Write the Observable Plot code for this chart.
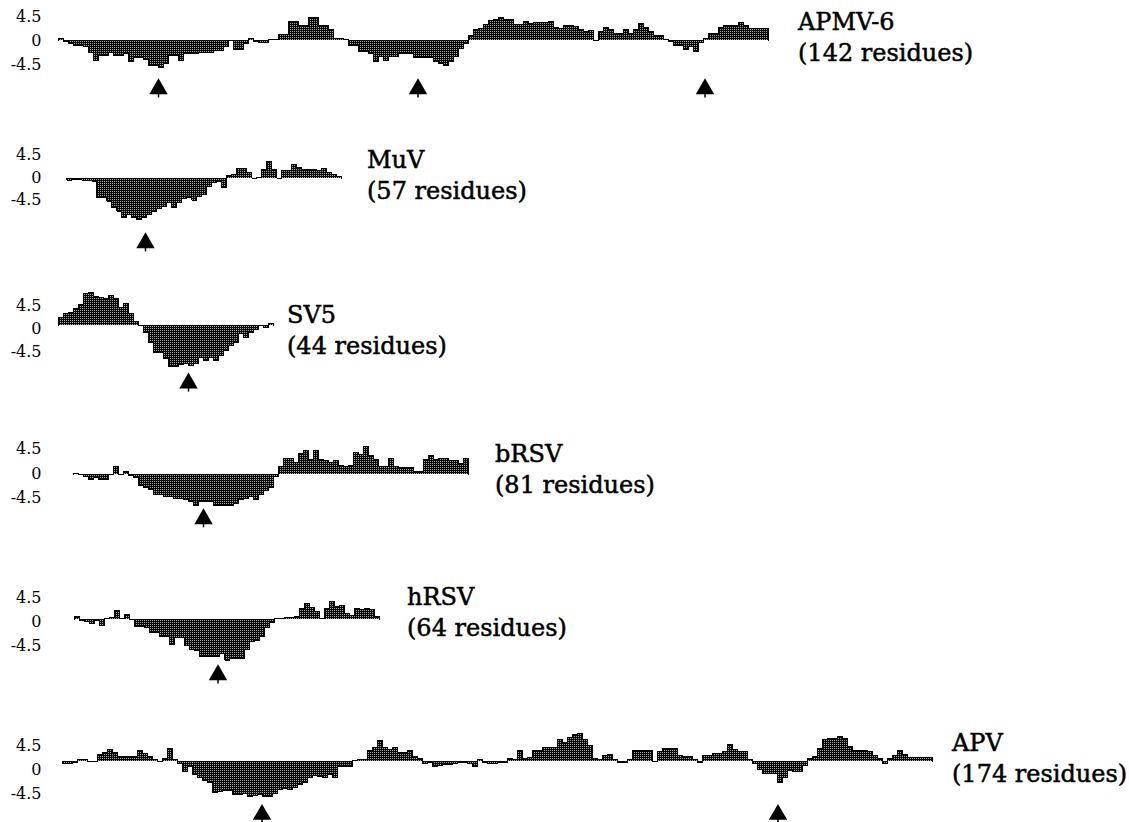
<!DOCTYPE html>
<html><head><meta charset="utf-8">
<script src="https://cdn.jsdelivr.net/npm/d3@7"></script>
<script src="https://cdn.jsdelivr.net/npm/@observablehq/plot@0.6"></script>
<style>
body{margin:0;background:#fff;}
#fig{position:relative;width:1129px;height:822px;overflow:hidden;background:#fff;}
#fig svg{position:absolute;left:0;}
</style></head><body>
<svg width="0" height="0" style="position:absolute;left:0;top:0">
  <defs>
    <pattern id="stip" width="2" height="2" patternUnits="userSpaceOnUse">
      <rect width="2" height="2" fill="#000"/>
      <rect width="1" height="1" fill="#a8a8a8"/>
    </pattern>
  </defs>
</svg>
<div id="fig"></div>
<script>
// ---------------- data (hydropathy per residue) ----------------
const apmv6Values = [0.3,-0.2,-0.5,-1.0,-1.0,-1.2,-2.2,-3.7,-2.8,-2.8,
  -2.2,-2.8,-2.8,-2.5,-4.0,-3.1,-3.1,-3.5,-4.7,-4.7,
  -5.0,-4.4,-2.8,-2.8,-3.7,-2.5,-2.5,-2.5,-2.2,-2.2,
  -2.2,-1.9,-1.9,-1.2,0,-1.7,-1.7,-0.6,0.3,-0.2,
  -0.3,-0.3,0.1,0.2,1.2,1.2,3.5,3.5,2.8,2.8,
  4.25,4.25,2.9,2.9,2.0,0.3,0.3,0.2,-1.0,-1.0,
  -2.0,-2.0,-2.5,-4.0,-3.0,-3.8,-3.0,-3.0,-2.5,-2.5,
  -2.5,-3.1,-3.1,-3.1,-3.1,-4.0,-4.3,-4.7,-4.0,-3.0,
  -1.5,-0.5,1.0,2.0,2.2,3.0,3.75,4.0,4.4,4.0,
  3.9,3.0,3.0,3.6,3.2,3.4,3.4,3.4,3.6,2.4,
  2.2,2.9,2.9,2.7,2.0,1.6,1.8,0,1.7,2.4,
  2.0,1.4,1.4,2.0,1.4,2.0,3.25,2.4,1.6,1.0,
  1.0,0.1,-0.2,-1.0,-1.0,-1.6,-1.2,-2.0,-0.3,0.3,
  1.4,1.4,2.4,2.8,2.8,2.8,3.4,2.8,2.2,2.2,
  2.2,2.2];
const muvValues = [-0.3,-0.1,-0.2,-0.3,-0.3,-0.5,-3.8,-3.8,-4.5,-5.8,
  -6.5,-7.8,-7.1,-7.8,-8.2,-7.8,-7.1,-6.5,-6.0,-5.6,
  -4.8,-5.8,-4.8,-4.0,-3.8,-4.3,-3.5,-3.1,-1.5,-0.8,
  -0.5,-1.8,0.6,0.9,2.1,2.1,1.2,0.1,0.2,1.9,
  3.4,1.9,0.1,1.7,1.7,2.9,2.2,1.9,1.9,1.9,
  1.7,2.1,1.3,0.9,0.5];
const sv5Values = [1.5,2.3,2.6,3.3,4.2,6.2,6.5,5.6,5.4,5.2,
  5.9,5.2,3.6,4.4,2.3,0.7,0,-1.3,-3.3,-5.2,
  -5.2,-6.5,-8.0,-8.0,-7.6,-7.5,-7.8,-7.4,-6.2,-6.9,
  -6.3,-6.9,-5.9,-4.9,-3.9,-3.3,-1.6,-2.3,-1.3,-0.7,
  0,-0.3,0.3];
const brsvValues = [0.2,0,-0.3,-0.9,-0.5,-0.9,-0.9,0,1.4,0,
  0.6,-0.2,-0.5,-2.0,-2.3,-2.7,-3.7,-3.7,-4.0,-4.0,
  -4.3,-4.3,-4.6,-5.0,-5.6,-5.0,-5.0,-5.0,-5.6,-5.6,
  -5.6,-5.6,-5.3,-4.6,-4.3,-4.0,-4.6,-3.7,-2.9,-2.3,
  -0.3,1.4,3.0,3.0,2.2,3.9,4.4,2.8,4.3,2.8,
  2.5,2.2,2.5,1.7,1.4,1.7,4.0,3.7,5.2,3.4,
  2.7,1.5,1.4,3.0,1.4,1.2,1.2,1.2,0.5,0.5,
  2.8,3.4,2.8,3.0,3.0,2.5,2.5,2.0,3.0];
const hrsvValues = [0.5,-0.2,-0.3,-0.8,-0.2,-1.2,0.2,0.3,1.6,0.1,
  0.9,0,-1.3,-1.3,-1.5,-2.5,-2.5,-3.1,-3.1,-4.6,
  -3.4,-3.4,-4.9,-5.7,-5.9,-6.9,-6.9,-6.9,-6.9,-6.4,
  -7.6,-7.4,-7.4,-7.4,-5.7,-4.2,-4.0,-3.1,-1.5,-0.5,
  0.1,0.2,0.3,0.4,0.6,2.0,3.0,2.2,1.5,0.2,
  2.1,3.4,2.4,2.6,1.2,0.8,2.1,1.9,2.1,1.9,
  0.5];
const apvValues = [-0.4,-0.4,-0.2,0.3,0.4,0,0,1.4,1.6,2.2,
  1.7,0.9,0.9,0.9,0.9,2.0,1.5,1.0,0.3,0,
  0.5,2.5,0.4,-0.3,-1.8,-1.0,-2.5,-3.0,-3.6,-4.0,
  -5.8,-5.6,-5.4,-5.4,-6.2,-6.2,-6.0,-6.6,-6.4,-6.2,
  -6.6,-6.6,-6.0,-5.3,-5.0,-5.3,-4.8,-4.3,-4.0,-3.0,
  -2.7,-2.8,-3.0,-2.5,-3.0,-1.0,-1.0,-1.0,0.2,0.3,
  0.3,2.0,2.6,4.0,2.6,2.2,2.6,1.6,1.6,2.1,
  1.0,0.5,-0.4,-0.2,-1.0,-0.7,-0.5,-0.5,-0.3,-0.2,
  -0.2,-0.3,-1.0,0.4,-0.2,-0.4,-0.3,-0.2,-0.1,0.5,
  0.3,2.0,0.5,0.7,2.1,2.1,2.7,2.7,2.7,4.1,
  3.5,4.5,5.0,5.2,4.2,3.0,0.6,0.4,1.1,1.3,
  0.4,-0.2,-0.2,0.3,2.1,2.1,2.1,2.1,0,1.8,
  2.5,2.5,2.5,1.2,0.9,0.9,0.4,-0.2,1.2,1.2,
  1.5,1.5,1.8,3.1,2.2,1.8,1.8,0.3,-0.3,-1.5,
  -2.2,-2.2,-2.2,-4.0,-3.0,-1.6,-1.8,-1.8,-0.8,0.6,
  1.0,2.4,4.2,4.4,4.4,4.6,4.4,2.8,2.0,2.0,
  2.0,1.8,1.2,0.6,-0.3,0.5,1.2,2.1,1.3,0.8,
  0.8,0.8,0.8,0.8];

// arrow positions (residue index along each profile)
const apmv6Arrows = [20.0, 71.9, 129.3];
const muvArrows = [15.8];
const sv5Arrows = [26.0];
const brsvArrows = [26.0];
const hrsvArrows = [28.7];
const apvArrows = [39.9, 143.1];

const panelNames = ["APMV-6", "MuV", "SV5", "bRSV", "hRSV", "APV"];
const residueCounts = [142, 57, 44, 81, 64, 174];
const yTicks = [4.5, 0, -4.5];

const panelValues = [apmv6Values, muvValues, sv5Values, brsvValues, hrsvValues, apvValues];
const panelArrows = [apmv6Arrows, muvArrows, sv5Arrows, brsvArrows, hrsvArrows, apvArrows];

// ---------------- layout (pixels) ----------------
const layout = [
  {startX: 58, zeroY: 40,  ppu: 5.33, arrowY: -9.08, tickDy: 0,  labelX: 798, labelY: 30},
  {startX: 66, zeroY: 178, ppu: 5.0,  arrowY: -12.9, tickDy: -1, labelX: 367, labelY: 168},
  {startX: 58, zeroY: 325, ppu: 5.1,  arrowY: -11.3, tickDy: 3,  labelX: 287, labelY: 323},
  {startX: 73, zeroY: 474, ppu: 5.47, arrowY: -8.1,  tickDy: -1, labelX: 495, labelY: 462},
  {startX: 74, zeroY: 619, ppu: 5.33, arrowY: -10.4, tickDy: 2,  labelX: 407, labelY: 605},
  {startX: 62, zeroY: 761, ppu: 5.33, arrowY: -9.95, tickDy: 8,  labelX: 952, labelY: 751}
];
const W = 1129, H = 170, Z = 85, ML = 45, STEP = 5;
const fig = document.getElementById("fig");

panelValues.forEach((values, k) => {
  const L = layout[k];
  const rows = values.map((v, i) => ({i, v}));
  const outline = [{x: 0, y: 0}]
    .concat(rows.flatMap(d => [{x: d.i, y: d.v}, {x: d.i + 1, y: d.v}]))
    .concat([{x: values.length, y: 0}]);
  const arrows = panelArrows[k];
  const svg = Plot.plot({
    width: W, height: H,
    marginLeft: ML, marginRight: 0, marginTop: 0, marginBottom: 0,
    style: {background: "transparent", overflow: "visible", fontFamily: "'DejaVu Serif', serif", fontSize: "16px", color: "#000"},
    x: {domain: [(ML - L.startX) / STEP, (W - L.startX) / STEP], axis: null},
    y: {domain: [-(H - Z) / L.ppu, Z / L.ppu], axis: null},
    marks: [
      Plot.rect(rows, {x1: "i", x2: d => d.i + 1, y1: 0, y2: "v", fill: "url(#stip)", inset: 0, shapeRendering: "crispEdges"}),
      Plot.line(outline, {x: "x", y: "y", stroke: "#000", strokeWidth: 1, shapeRendering: "crispEdges"}),
      Plot.ruleX(arrows, {x: d => d, y1: L.arrowY, y2: L.arrowY - 9 / L.ppu, stroke: "#000", strokeWidth: 1.5}),
      Plot.dot(arrows, {x: d => d, y: L.arrowY, symbol: "triangle2", r: 8.8, fill: "#000", stroke: "none"}),
      Plot.axisY(yTicks, {anchor: "left", tickSize: 0, tickPadding: 4, tickFormat: d => String(d), dy: L.tickDy, fontSize: 16, stroke: "#000", strokeWidth: 0.3})
    ]
  });
  svg.style.top = (L.zeroY - Z) + "px";
  fig.appendChild(svg);
});

// labels overlay
const ov = d3.select(fig).append("svg")
  .attr("width", W).attr("height", 822)
  .style("top", "0px").style("left", "0px")
  .style("font-family", "'DejaVu Serif', serif").style("font-size", "24px")
  .style("stroke", "#000").style("stroke-width", "0.5px");
layout.forEach((L, k) => {
  ov.append("text").attr("x", L.labelX).attr("y", L.labelY).text(panelNames[k]);
  ov.append("text").attr("x", L.labelX).attr("y", L.labelY + 31).text(`(${residueCounts[k]} residues)`);
});
</script>
</body></html>
